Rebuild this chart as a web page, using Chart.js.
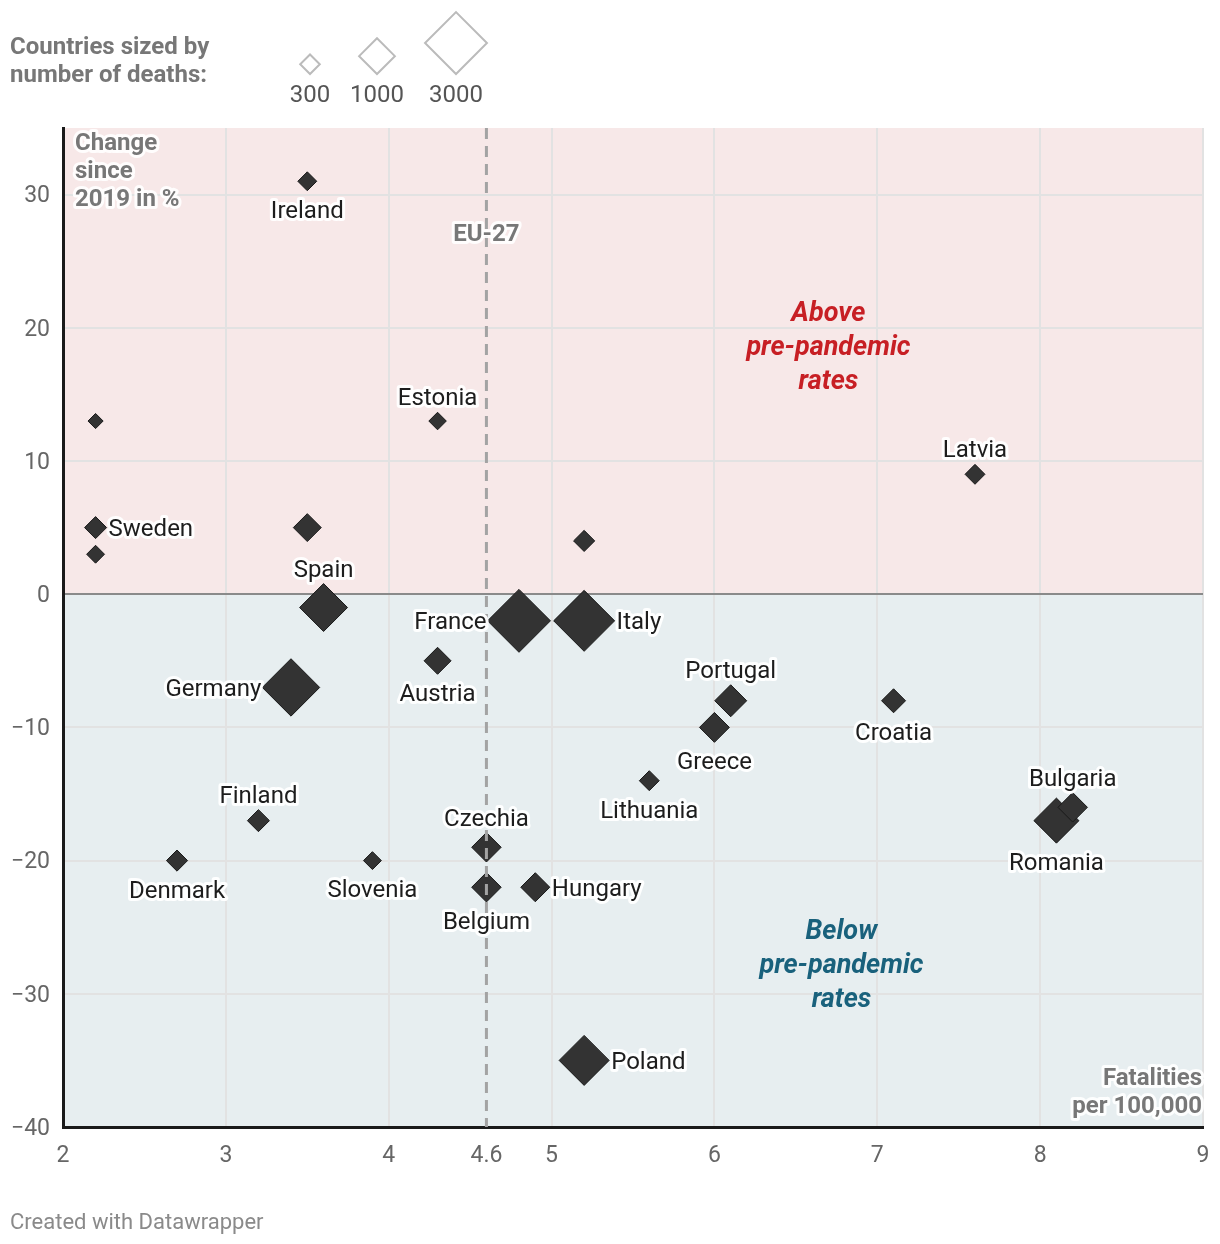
<!DOCTYPE html>
<html>
<head>
<meta charset="utf-8">
<script src="https://cdn.jsdelivr.net/npm/chart.js@4"></script>
<style>
  html, body { margin: 0; padding: 0; background: #fff; overflow: hidden; }
  #wrap { width: 1220px; height: 1244px; position: relative; }
  canvas { display: block; }
</style>
</head>
<body>
<div id="wrap"><canvas id="c" width="1220" height="1244" style="width:1220px;height:1244px"></canvas></div>
<script>
// ---- DATA ----
const countries = ["Ireland","Luxembourg","Estonia","Latvia","Sweden","Netherlands","Malta","Slovakia","Spain","France","Italy","Austria","Germany","Portugal","Greece","Croatia","Lithuania","Romania","Bulgaria","Finland","Denmark","Slovenia","Czechia","Belgium","Hungary","Poland"];
const fatalitiesPer100k = [3.5, 2.2, 4.3, 7.6, 2.2, 3.5, 2.2, 5.2, 3.6, 4.8, 5.2, 4.3, 3.4, 6.1, 6.0, 7.1, 5.6, 8.1, 8.2, 3.2, 2.7, 3.9, 4.6, 4.6, 4.9, 5.2];
const changeSince2019 = [31, 13, 13, 9, 5, 5, 3, 4, -1, -2, -2, -5, -7, -8, -10, -8, -14, -17, -16, -17, -20, -20, -19, -22, -22, -35];
const deaths = [280, 180, 240, 310, 380, 610, 250, 350, 1800, 3100, 2910, 570, 2580, 800, 700, 450, 310, 1590, 680, 380, 350, 250, 680, 680, 660, 1960];
const xTicks = [2, 3, 4, 4.6, 5, 6, 7, 8, 9];
const yTicks = [-40, -30, -20, -10, 0, 10, 20, 30];
const euAverage = 4.6;
const legendDeaths = [300, 1000, 3000];

// label placement (style, not data)
const labelSide = {
  Ireland: "below", Estonia: "above", Latvia: "above", Sweden: "right", Spain: "above",
  France: "left", Italy: "right", Austria: "below", Germany: "left", Portugal: "above",
  Greece: "below", Croatia: "below", Lithuania: "below", Romania: "below", Bulgaria: "above",
  Finland: "above", Denmark: "below", Slovenia: "below", Czechia: "above", Belgium: "below",
  Hungary: "right", Poland: "right"
};

const FONT = "Roboto, 'Noto Sans', sans-serif";
const TY = 2; // vertical text nudge
const sizeOf = d => 0.565 * Math.sqrt(d);

const points = countries.map((c, i) => ({ x: fatalitiesPer100k[i], y: changeSince2019[i], name: c, deaths: deaths[i] }));

function haloText(ctx, text, x, y, opts) {
  ctx.save();
  ctx.font = opts.font;
  ctx.textAlign = opts.align || "center";
  ctx.textBaseline = "middle";
  ctx.lineJoin = "round";
  if (opts.haloWidth !== 0) {
    ctx.strokeStyle = opts.halo || "rgba(255,255,255,0.95)";
    ctx.lineWidth = opts.haloWidth || 6;
    ctx.strokeText(text, x, y + TY);
  }
  ctx.fillStyle = opts.color;
  ctx.fillText(text, x, y + TY);
  ctx.restore();
}

const bgPlugin = {
  id: "bg",
  beforeDraw(chart) {
    const { ctx, chartArea: a, scales } = chart;
    const y0 = scales.y.getPixelForValue(0);
    ctx.save();
    ctx.fillStyle = "#f7e8e8";
    ctx.fillRect(a.left, a.top, a.right - a.left, y0 - a.top);
    ctx.fillStyle = "#e7eef0";
    ctx.fillRect(a.left, y0, a.right - a.left, a.bottom - y0);
    ctx.restore();

    // size legend (top)
    ctx.save();
    ctx.font = "bold 24px " + FONT;
    ctx.fillStyle = "#777";
    ctx.textBaseline = "middle";
    ctx.fillText("Countries sized by", 10, 46 + TY);
    ctx.fillText("number of deaths:", 10, 74 + TY);
    const centersX = [310, 377, 456];
    const baseY = 74;
    legendDeaths.forEach((d, i) => {
      const r = sizeOf(d);
      const cx = centersX[i], cy = baseY - r;
      ctx.beginPath();
      ctx.moveTo(cx - r, cy); ctx.lineTo(cx, cy - r); ctx.lineTo(cx + r, cy); ctx.lineTo(cx, cy + r); ctx.closePath();
      ctx.strokeStyle = "#bbbbbb"; ctx.lineWidth = 2; ctx.stroke();
      ctx.fillStyle = "#555";
      ctx.font = "24px " + FONT;
      ctx.textAlign = "center";
      ctx.fillText(String(d), cx, 94 + TY);
    });
    ctx.textAlign = "left";
    ctx.font = "22px " + FONT;
    ctx.fillStyle = "#8a8a8a";
    ctx.fillText("Created with Datawrapper", 10, 1221 + TY);
    ctx.restore();
  },
  afterDatasetsDraw(chart) {
    const { ctx, chartArea: a, scales } = chart;
    const xs = scales.x, ys = scales.y;
    // EU average dashed line
    const xe = xs.getPixelForValue(euAverage);
    ctx.save();
    ctx.strokeStyle = "#a3a3a3";
    ctx.lineWidth = 3;
    ctx.setLineDash([11, 7]);
    ctx.beginPath(); ctx.moveTo(xe, a.top); ctx.lineTo(xe, a.bottom); ctx.stroke();
    ctx.restore();

    // country labels
    const meta = chart.getDatasetMeta(0);
    meta.data.forEach((el, i) => {
      const name = countries[i];
      const side = labelSide[name];
      if (!side) return;
      const r = sizeOf(deaths[i]);
      const f = { font: "24px " + FONT, color: "#1d1d1d" };
      let x = el.x, y = el.y;
      if (side === "above") { y = el.y - r - 15; }
      else if (side === "below") { y = el.y + r + 19; }
      else if (side === "right") { x = el.x + r + 2; f.align = "left"; y = el.y + 0.5; }
      else if (side === "left") { x = el.x - r - 1; f.align = "right"; y = el.y + 0.5; }
      haloText(ctx, name, x, y, f);
    });

    // annotations
    const grey = { font: "bold 24px " + FONT, color: "#777", halo: "rgba(255,255,255,0.9)", haloWidth: 6 };
    haloText(ctx, "EU-27", xe, ys.getPixelForValue(27.1), grey);
    ["Change", "since", "2019 in %"].forEach((t, i) =>
      haloText(ctx, t, a.left + 12, a.top + 14 + i * 28, Object.assign({}, grey, { align: "left" })));
    ["Fatalities", "per 100,000"].forEach((t, i) =>
      haloText(ctx, t, a.right - 1, a.bottom - 50 + i * 28, Object.assign({}, grey, { align: "right" })));

    const aboveX = xs.getPixelForValue(6.7), aboveY = ys.getPixelForValue(21.2);
    ["Above", "pre-pandemic", "rates"].forEach((t, i) =>
      haloText(ctx, t, aboveX, aboveY + i * 34, { font: "italic bold 27px " + FONT, color: "#c71f24", haloWidth: 0 }));
    const belowX = xs.getPixelForValue(6.78), belowY = ys.getPixelForValue(-25.2);
    ["Below", "pre-pandemic", "rates"].forEach((t, i) =>
      haloText(ctx, t, belowX, belowY + i * 34, { font: "italic bold 27px " + FONT, color: "#19617c", haloWidth: 0 }));
  }
};

new Chart(document.getElementById("c"), {
  type: "scatter",
  data: {
    datasets: [{
      data: points,
      pointStyle: "rectRot",
      pointRadius: points.map(p => sizeOf(p.deaths)),
      pointHoverRadius: points.map(p => sizeOf(p.deaths)),
      backgroundColor: "#333333",
      borderColor: "#1a1a1a",
      borderWidth: 1
    }]
  },
  options: {
    responsive: false,
    maintainAspectRatio: false,
    devicePixelRatio: 1,
    animation: false,
    events: [],
    layout: { autoPadding: false, padding: { top: 128, right: 17, left: 0, bottom: 0 } },
    plugins: { legend: { display: false }, tooltip: { enabled: false } },
    scales: {
      x: {
        type: "linear", min: 2, max: 9,
        afterBuildTicks: s => { s.ticks = xTicks.map(v => ({ value: v })); },
        afterFit: s => { s.height = 117; },
        grid: {
          drawTicks: true,
          tickLength: 15,
          tickColor: "rgba(0,0,0,0)",
          color: c => (c.tick && c.tick.value === euAverage) ? "rgba(0,0,0,0)" : "#e2e2e2",
          lineWidth: 2
        },
        border: { display: true, color: "#1a1a1a", width: 3 },
        ticks: { padding: 0, color: "#666", font: { family: FONT, size: 23 }, maxRotation: 0, autoSkip: false,
          callback: v => String(v) }
      },
      y: {
        type: "linear", min: -40, max: 35,
        afterBuildTicks: s => { s.ticks = yTicks.map(v => ({ value: v })); },
        afterFit: s => { s.width = 63; },
        grid: {
          drawTicks: false,
          color: c => (c.tick && c.tick.value === 0) ? "#8a8a8a" : "#e2e2e2",
          lineWidth: 2
        },
        border: { display: true, color: "#1a1a1a", width: 3 },
        ticks: { padding: 13, labelOffset: 2, color: "#666", font: { family: FONT, size: 23 }, autoSkip: false,
          callback: v => (v < 0 ? "\u2212" + Math.abs(v) : String(v)) }
      }
    }
  },
  plugins: [bgPlugin]
});
</script>
</body>
</html>
